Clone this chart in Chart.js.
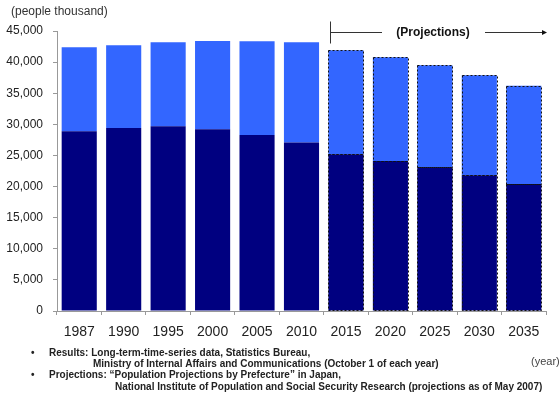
<!DOCTYPE html>
<html>
<head>
<meta charset="utf-8">
<script src="https://cdn.jsdelivr.net/npm/chart.js@4"></script>
<style>
  html, body { margin: 0; padding: 0; background: #fff; }
  canvas { display: block; }
</style>
</head>
<body>
<canvas id="popChart" width="560" height="397"></canvas>
<script>
// data (people thousand)
const years = ['1987', '1990', '1995', '2000', '2005', '2010', '2015', '2020', '2025', '2030', '2035'];
const lowerValues = [28900, 29400, 29700, 29200, 28300, 27100, 25200, 24100, 23100, 21800, 20400];
const upperValues = [13500, 13300, 13500, 14200, 15050, 16100, 16700, 16700, 16400, 16100, 15800];
const yTicks = [0, 5000, 10000, 15000, 20000, 25000, 30000, 35000, 40000, 45000];
const firstProjection = 6; // index of 2015

const footnotes = [
  { text: 'Results: Long-term-time-series data, Statistics Bureau,', x: 49, y: 353, w: 268, bullet: true },
  { text: 'Ministry of Internal Affairs and Communications (October 1 of each year)', x: 93, y: 364, w: 350 },
  { text: 'Projections: \u201cPopulation Projections by Prefecture\u201d in Japan,', x: 49, y: 375, w: 292, bullet: true },
  { text: 'National Institute of Population and Social Security Research (projections as of May 2007)', x: 115, y: 387, w: 428 }
];

// extra drawing: dashed outline on projected bars, labels, notes
const extrasPlugin = {
  id: 'extras',
  afterDatasetsDraw(chart) {
    const ctx = chart.ctx;
    ctx.save();
    ctx.strokeStyle = '#111';
    ctx.lineWidth = 1;
    ctx.setLineDash([2, 2]);
    chart.data.datasets.forEach((ds, di) => {
      const meta = chart.getDatasetMeta(di);
      meta.data.forEach((bar, i) => {
        if (i < firstProjection) return;
        const p = bar.getProps(['x', 'y', 'base', 'width'], true);
        const left = Math.round(p.x - p.width / 2) + 0.5;
        const top = Math.round(Math.min(p.y, p.base)) + 0.5;
        const h = Math.abs(p.base - p.y);
        ctx.strokeRect(left, top, Math.round(p.width), Math.round(h));
      });
    });
    ctx.restore();
  },
  afterDraw(chart) {
    const ctx = chart.ctx;
    const area = chart.chartArea;
    const meta = chart.getDatasetMeta(1);
    ctx.save();

    // unit label
    ctx.fillStyle = '#333';
    ctx.font = '12px "Liberation Sans", Arial, sans-serif';
    ctx.textBaseline = 'middle';
    ctx.textAlign = 'left';
    ctx.fillText('(people thousand)', 11, 12);

    // projections marker
    const startBar = meta.data[firstProjection];
    const x0 = Math.round(startBar.x - startBar.width / 2) + 2.5;
    const ly = area.top + 1.5;
    ctx.strokeStyle = '#333';
    ctx.lineWidth = 1;
    ctx.beginPath();
    ctx.moveTo(x0, ly - 11);
    ctx.lineTo(x0, ly + 11);
    ctx.moveTo(x0, ly);
    ctx.lineTo(382, ly);
    ctx.moveTo(485, ly);
    ctx.lineTo(area.right - 3, ly);
    ctx.stroke();
    ctx.fillStyle = '#111';
    ctx.beginPath();
    ctx.moveTo(area.right + 1, ly);
    ctx.lineTo(area.right - 4, ly - 2.5);
    ctx.lineTo(area.right - 4, ly + 2.5);
    ctx.closePath();
    ctx.fill();
    ctx.font = 'bold 12px "Liberation Sans", Arial, sans-serif';
    ctx.textAlign = 'center';
    ctx.fillText('(Projections)', 433, ly);

    // footnotes
    ctx.fillStyle = '#222';
    ctx.textAlign = 'left';
    footnotes.forEach(n => {
      ctx.font = 'bold 10px "Liberation Sans", Arial, sans-serif';
      ctx.fillText(n.text, n.x, n.y, n.w);
      if (n.bullet) ctx.fillText('\u2022', 31, n.y);
    });
    ctx.font = '11px "Liberation Sans", Arial, sans-serif';
    ctx.fillStyle = '#444';
    ctx.fillText('(year)', 531, 362);
    ctx.restore();
  }
};

const ctx = document.getElementById('popChart').getContext('2d');
new Chart(ctx, {
  type: 'bar',
  data: {
    labels: years,
    datasets: [
      {
        label: 'lower',
        data: lowerValues,
        backgroundColor: '#000080',
        borderWidth: 0
      },
      {
        label: 'upper',
        data: upperValues,
        backgroundColor: '#3366FF',
        borderWidth: 0
      }
    ]
  },
  options: {
    responsive: false,
    animation: false,
    layout: { padding: { top: 31, right: 14, bottom: 56, left: 0 } },
    plugins: {
      legend: { display: false },
      tooltip: { enabled: false }
    },
    datasets: {
      bar: { categoryPercentage: 1, barPercentage: 0.79 }
    },
    scales: {
      x: {
        stacked: true,
        afterFit(scale) { scale.height = 30; },
        grid: {
          drawOnChartArea: false,
          tickLength: 4,
          color: '#999'
        },
        border: { color: '#999' },
        ticks: {
          color: '#222',
          padding: 9,
          maxRotation: 0,
          font: { size: 14, family: '"Liberation Sans", Arial, sans-serif' }
        }
      },
      y: {
        stacked: true,
        min: 0,
        max: 45000,
        afterFit(scale) { scale.width = 57; },
        afterBuildTicks(scale) { scale.ticks = yTicks.map(v => ({ value: v })); },
        grid: {
          drawOnChartArea: false,
          tickLength: 4,
          color: '#999'
        },
        border: { color: '#999' },
        ticks: {
          color: '#222',
          padding: 10,
          font: { size: 12, family: '"Liberation Sans", Arial, sans-serif' },
          callback(value) {
            return value.toLocaleString('en-US');
          }
        }
      }
    }
  },
  plugins: [extrasPlugin]
});
</script>
</body>
</html>
